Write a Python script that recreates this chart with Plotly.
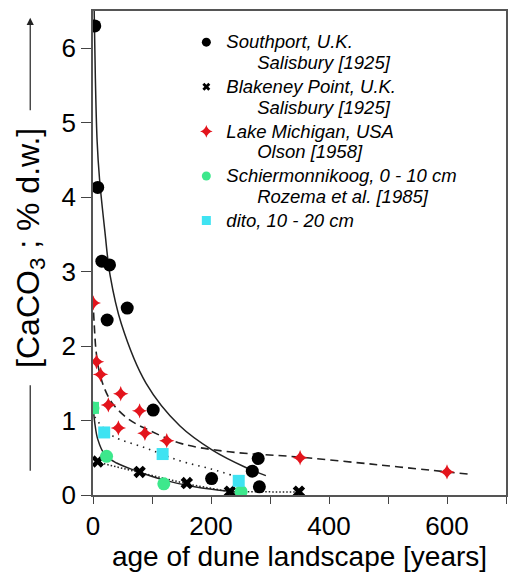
import plotly.graph_objects as go

# ---- data ----
southport_x = [3, 8, 15, 28, 24, 58, 102, 201, 280, 270, 282]
southport_y = [6.30, 4.13, 3.14, 3.09, 2.35, 2.51, 1.14, 0.22, 0.49, 0.32, 0.11]

blakeney_x = [8, 79, 159, 232, 349]
blakeney_y = [0.45, 0.31, 0.16, 0.045, 0.045]

michigan_x = [0.5, 6, 13, 47, 26, 79, 43, 88, 125, 351, 600]
michigan_y = [2.58, 1.79, 1.62, 1.36, 1.21, 1.13, 0.90, 0.83, 0.73, 0.50, 0.31]

schier_x = [0, 23, 120, 251]
schier_y = [1.17, 0.52, 0.15, 0.045]

dito_x = [0, 19, 118, 247]
dito_y = [1.17, 0.84, 0.55, 0.19]

# fitted curves
southport_fit_x = [2, 4, 7, 11, 20, 29, 48, 90, 147, 203, 259, 293]
southport_fit_y = [6.5, 5.6, 4.75, 4.25, 3.55, 2.95, 2.3, 1.5, 0.93, 0.6, 0.37, 0.26]

michigan_fit_x = [1, 2, 5, 10, 20, 34, 60, 95, 150, 231, 349, 484, 600, 638]
michigan_fit_y = [2.45, 2.3, 1.95, 1.68, 1.42, 1.22, 1.02, 0.87, 0.69, 0.58, 0.51, 0.405, 0.31, 0.28]

dito_fit_x = [3, 12, 34, 90, 147, 200, 250]
dito_fit_y = [1.05, 0.95, 0.79, 0.63, 0.46, 0.35, 0.23]

schier_fit_x = [1, 3, 8, 20, 40, 71, 121, 172, 231, 250]
schier_fit_y = [1.12, 0.97, 0.75, 0.54, 0.43, 0.33, 0.2, 0.11, 0.05, 0.04]

blakeney_fit_x = [3, 8, 80, 165, 232, 350]
blakeney_fit_y = [0.48, 0.44, 0.3, 0.14, 0.045, 0.04]

IND = "\u00a0" * 6
legend_lines = [
    ["Southport, U.K.", IND + "Salisbury [1925]"],
    ["Blakeney Point, U.K.", IND + "Salisbury [1925]"],
    ["Lake Michigan, USA", IND + "Olson [1958]"],
    ["Schiermonnikoog, 0 - 10 cm", IND + "Rozema et al. [1985]"],
    ["dito, 10 - 20 cm"],
]

x_tickvals = [0, 100, 200, 300, 400, 500, 600, 700]
x_ticktext = ["0", "", "200", "", "400", "", "600", ""]
y_tickvals = [0, 1, 2, 3, 4, 5, 6]

GREEN = "#3de88c"
CYAN = "#3fe3f2"
RED = "#e3141c"
FONT = "Liberation Sans"


def leg_text(lines):
    return "<br>".join(f"<span style='font-size:18.5px'><i>{s}</i></span>" for s in lines)


fig = go.Figure()

# fitted lines
fig.add_trace(go.Scatter(x=southport_fit_x, y=southport_fit_y, mode="lines",
                         line=dict(color="#222", width=1.5, shape="spline", smoothing=1.0),
                         showlegend=False, hoverinfo="skip"))
fig.add_trace(go.Scatter(x=michigan_fit_x, y=michigan_fit_y, mode="lines",
                         line=dict(color="#222", width=1.6, shape="spline", smoothing=1.0,
                                   dash="8px,5px"),
                         showlegend=False, hoverinfo="skip"))
fig.add_trace(go.Scatter(x=dito_fit_x, y=dito_fit_y, mode="lines",
                         line=dict(color="#222", width=1.6, shape="spline", smoothing=1.0,
                                   dash="1.5px,5px"),
                         showlegend=False, hoverinfo="skip"))
fig.add_trace(go.Scatter(x=schier_fit_x, y=schier_fit_y, mode="lines",
                         line=dict(color="#222", width=1.5, shape="spline", smoothing=1.0),
                         showlegend=False, hoverinfo="skip"))
fig.add_trace(go.Scatter(x=blakeney_fit_x, y=blakeney_fit_y, mode="lines",
                         line=dict(color="#222", width=1.5, dash="1.5px,2px"),
                         showlegend=False, hoverinfo="skip"))

# data markers
fig.add_trace(go.Scatter(x=southport_x, y=southport_y, mode="markers",
                         marker=dict(symbol="circle", size=13, color="black"),
                         showlegend=False))
fig.add_trace(go.Scatter(x=blakeney_x, y=blakeney_y, mode="markers",
                         marker=dict(symbol="x", size=11, color="black"),
                         showlegend=False))
fig.add_trace(go.Scatter(x=michigan_x, y=michigan_y, mode="markers",
                         marker=dict(symbol="star-diamond", size=11, color=RED),
                         showlegend=False))
fig.add_trace(go.Scatter(x=schier_x, y=schier_y, mode="markers",
                         marker=dict(symbol="circle", size=13, color=GREEN),
                         showlegend=False))
fig.add_trace(go.Scatter(x=dito_x, y=dito_y, mode="markers",
                         marker=dict(symbol="square", size=12,
                                     color=[GREEN, CYAN, CYAN, CYAN]),
                         showlegend=False))

# legend-only entries
leg_specs = [
    dict(symbol="circle", size=9, color="black"),
    dict(symbol="x", size=7, color="black"),
    dict(symbol="star-diamond", size=9, color=RED),
    dict(symbol="circle", size=9, color=GREEN),
    dict(symbol="square", size=9, color=CYAN),
]
for i, (lines, mk) in enumerate(zip(legend_lines, leg_specs)):
    fig.add_trace(go.Scatter(x=[None], y=[None], mode="markers", name=leg_text(lines),
                             marker=mk, legendgroup=f"g{i}", showlegend=True))

axis_common = dict(showline=True, linecolor="#555", linewidth=1.5, mirror=True,
                   ticks="outside", tickcolor="#444", tickwidth=1.2,
                   showgrid=False, zeroline=False,
                   tickfont=dict(family=FONT, size=26, color="black"))

fig.update_layout(
    width=514, height=575,
    margin=dict(l=93, r=6, t=11, b=80),
    paper_bgcolor="white", plot_bgcolor="white",
    font=dict(family=FONT, color="black"),
    xaxis=dict(range=[0, 700], tickvals=x_tickvals, ticktext=x_ticktext, ticklen=7,
               title=dict(text="age of dune landscape [years]",
                          font=dict(family=FONT, size=28, color="black"), standoff=0),
               **axis_common),
    yaxis=dict(range=[0, 6.5], tickvals=y_tickvals, ticklen=10,
               **axis_common),
    legend=dict(x=0.226, y=0.9705, xanchor="left", yanchor="top",
                bgcolor="rgba(0,0,0,0)", font=dict(family=FONT, size=16, color="black"),
                valign="top", tracegroupgap=0, itemwidth=30),
    showlegend=True,
)

# y-axis title with arrow line
fig.add_annotation(xref="paper", yref="paper", x=-0.152, y=0.511, xanchor="center",
                   yanchor="middle",
                   text="[CaCO<sub>3</sub> ; % d.w.]", textangle=-90, showarrow=False,
                   font=dict(family=FONT, size=32, color="black"))
fig.add_annotation(xref="paper", yref="paper", x=-0.152, y=0.986, text="",
                   showarrow=True, arrowhead=2, arrowsize=1.2, arrowwidth=1.2,
                   arrowcolor="#222", ax=0, ay=94)
fig.add_shape(type="line", xref="paper", yref="paper", x0=-0.152, x1=-0.152,
              y0=0.227, y1=0.05, line=dict(color="#222", width=1.2))

fig.write_html("out.html")
